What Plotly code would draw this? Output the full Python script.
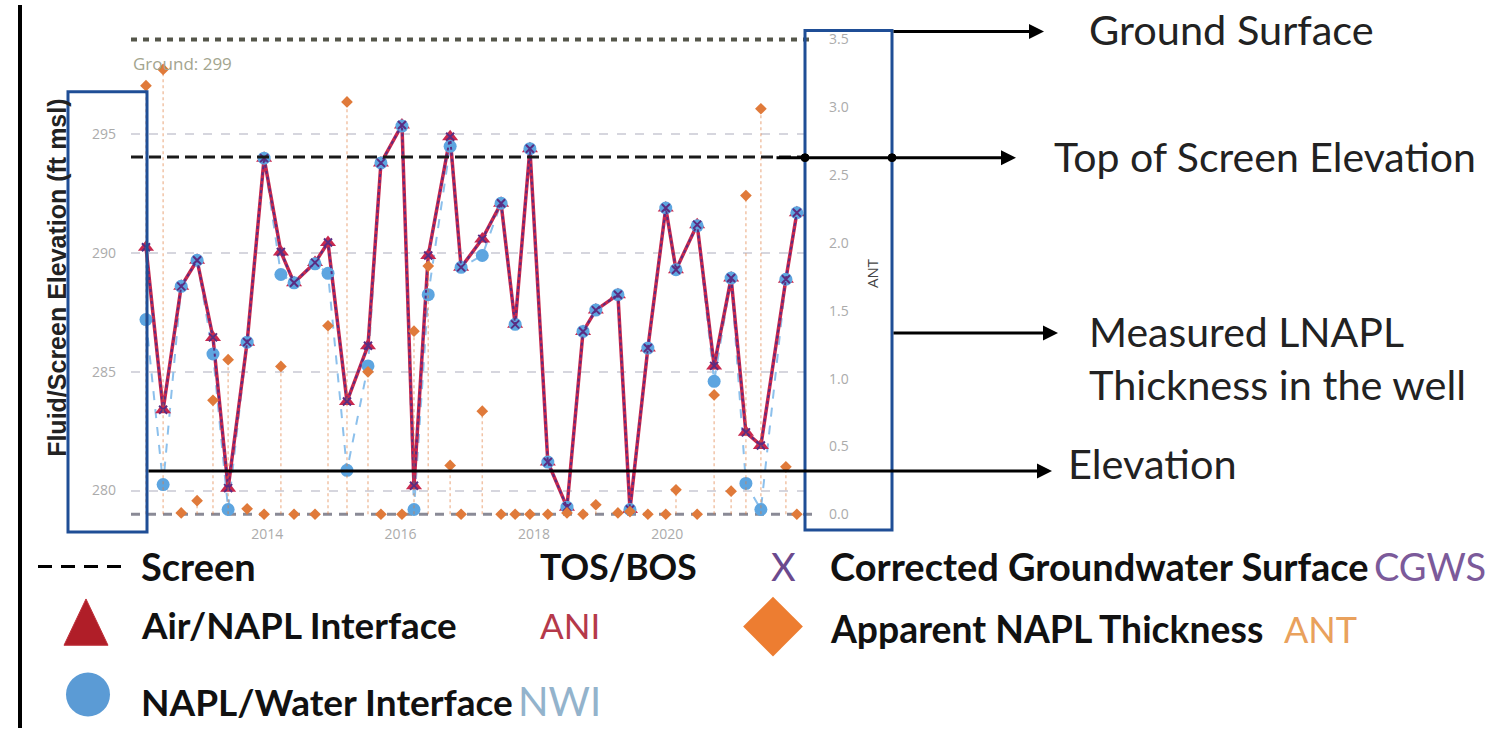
import plotly.graph_objects as go

# ---------------- data ----------------
dates = ["2012-03-08", "2012-06-10", "2012-09-17", "2012-12-13", "2013-03-10", "2013-06-01",
         "2013-09-13", "2013-12-15", "2014-03-17", "2014-05-28", "2014-09-20", "2014-11-30",
         "2015-03-14", "2015-07-07", "2015-09-16", "2016-01-09", "2016-03-15", "2016-06-01",
         "2016-09-29", "2016-11-28", "2017-03-24", "2017-07-05", "2017-09-20", "2017-12-10",
         "2018-03-18", "2018-07-01", "2018-09-27", "2018-12-06", "2019-04-06", "2019-06-11",
         "2019-09-17", "2019-12-24", "2020-02-18", "2020-06-13", "2020-09-14", "2020-12-16",
         "2021-03-07", "2021-05-28", "2021-10-12", "2021-12-11"]

ani = [290.25, 283.4, 288.6, 289.7, 286.45, 280.1, 286.25, 294.0, 290.05, 288.75,
       289.6, 290.45, 283.75, 286.1, 293.8, 295.4, 280.2, 289.9, 294.9, 289.4,
       290.6, 292.1, 287.0, 294.4, 281.2, 279.3, 286.7, 287.6, 288.25, 279.2,
       286.0, 291.9, 289.3, 291.2, 285.25, 288.95, 282.45, 281.9, 288.9, 291.7]

nwi = [287.2, 280.25, 288.6, 289.7, 285.75, 279.2, 286.25, 294.0, 289.1, 288.75,
       289.55, 289.15, 280.85, 285.25, 293.8, 295.35, 279.2, 288.25, 294.5, 289.4,
       289.9, 292.1, 287.0, 294.4, 281.2, 279.3, 286.7, 287.6, 288.25, 279.2,
       286.0, 291.9, 289.3, 291.15, 284.6, 288.95, 280.3, 279.2, 288.9, 291.7]

cgws = [290.25, 283.4, 288.6, 289.7, 286.45, 280.1, 286.25, 294.0, 290.05, 288.75,
        289.6, 290.45, 283.75, 286.1, 293.8, 295.4, 280.2, 289.9, 294.9, 289.4,
        290.6, 292.1, 287.0, 294.4, 281.2, 279.3, 286.7, 287.6, 288.25, 279.2,
        286.0, 291.9, 289.3, 291.2, 285.25, 288.95, 282.45, 281.9, 288.9, 291.7]

ant = [3.16, 3.28, 0.01, 0.10, 0.84, 1.14, 0.04, 0.0, 1.09, 0.0,
       0.0, 1.39, 3.04, 1.05, 0.0, 0.0, 1.35, 1.83, 0.36, 0.0,
       0.76, 0.0, 0.0, 0.0, 0.0, 0.01, 0.0, 0.07, 0.01, 0.02,
       0.0, 0.0, 0.18, 0.0, 0.88, 0.17, 2.35, 2.99, 0.35, 0.0]

ground_elev = 299.0
tos_elev = 294.05
bos_elev = 279.0
left_ticks = [280, 285, 290, 295]
right_ticks = [0.0, 0.5, 1.0, 1.5, 2.0, 2.5, 3.0, 3.5]
x_ticks = ["2014-01-01", "2016-01-01", "2018-01-01", "2020-01-01"]
x_tick_text = ["2014", "2016", "2018", "2020"]

# ---------------- layout geometry (pixels) ----------------
W, H = 1501, 734
PL, PR, PT, PB = 131, 812, 30, 520
left_range = [278.876, 299.207]
right_range = [-0.0218, 3.537]
x_range = ["2011-12-17", "2022-03-04"]

RED = "#C9284E"
BLUE = "#5DA5E0"
PURPLE = "#5A2D82"
ORANGE = "#E07A3A"

fig = go.Figure()

# ANT drop lines
dx, dy = [], []
for d, v in zip(dates, ant):
    dx += [d, d, None]
    dy += [0, v, None]
fig.add_trace(go.Scatter(x=dx, y=dy, yaxis="y2", mode="lines",
                         line=dict(color="rgba(224,122,58,0.45)", width=1.5, dash="dot"),
                         hoverinfo="skip", showlegend=False))
# NWI line
fig.add_trace(go.Scatter(x=dates, y=nwi, mode="lines",
                         line=dict(color="#8CC0EC", width=2, dash="dash"),
                         hoverinfo="skip", showlegend=False))
# ANI
fig.add_trace(go.Scatter(x=dates, y=ani, mode="lines+markers", name="ANI",
                         line=dict(color=RED, width=3.5),
                         marker=dict(symbol="triangle-up", size=14, color=RED),
                         showlegend=False))
# NWI markers
fig.add_trace(go.Scatter(x=dates, y=nwi, mode="markers", name="NWI",
                         marker=dict(symbol="circle", size=13, color=BLUE),
                         showlegend=False))
# CGWS
fig.add_trace(go.Scatter(x=dates, y=cgws, mode="lines+markers", name="CGWS",
                         line=dict(color=PURPLE, width=2, dash="dot"),
                         marker=dict(symbol="x-thin", size=8, line=dict(color=PURPLE, width=2)),
                         showlegend=False))
# ANT markers
fig.add_trace(go.Scatter(x=dates, y=ant, yaxis="y2", mode="markers", name="ANT",
                         marker=dict(symbol="diamond", size=9, color=ORANGE),
                         cliponaxis=False, showlegend=False))

# ---------------- overlay (pixel) axes for annotation graphics ----------------
fig.add_trace(go.Scatter(x=[88], y=[700], xaxis="x3", yaxis="y3", mode="markers",
                         marker=dict(symbol="circle", size=44, color="#5B9BD5"),
                         hoverinfo="skip", showlegend=False))
fig.add_trace(go.Scatter(x=[773], y=[631], xaxis="x3", yaxis="y3", mode="markers",
                         marker=dict(symbol="diamond", size=46, color="#ED7D31"),
                         hoverinfo="skip", showlegend=False))

shapes = []
P = dict(xref="x3", yref="y3", layer="above")
# ground line, TOS, BOS within plot
shapes.append(dict(type="line", xref="x domain", yref="y", x0=0, x1=1, y0=ground_elev, y1=ground_elev,
                   line=dict(color="#55564a", width=4, dash="6px,6px"), layer="above"))
shapes.append(dict(type="line", xref="x domain", yref="y", x0=0, x1=1, y0=tos_elev, y1=tos_elev,
                   line=dict(color="#1a1a1a", width=3, dash="12px,6px"), layer="above"))
shapes.append(dict(type="line", xref="x domain", yref="y", x0=0, x1=1, y0=bos_elev, y1=bos_elev,
                   line=dict(color="#8a8a96", width=3, dash="9px,7px"), layer="below"))
# left frame line
shapes.append(dict(type="line", x0=20, x1=20, y0=0, y1=734, line=dict(color="black", width=4), **P))
# blue boxes
shapes.append(dict(type="rect", x0=68, x1=147, y0=88, y1=535, line=dict(color="#1F4E96", width=3), **P))
shapes.append(dict(type="rect", x0=805, x1=892, y0=26, y1=533, line=dict(color="#1F4E96", width=3), **P))
# junction dots
for cx in (805, 892):
    shapes.append(dict(type="circle", x0=cx - 4, x1=cx + 4, y0=151, y1=159,
                       fillcolor="black", line=dict(color="black", width=1), **P))
# legend dashed line
shapes.append(dict(type="line", x0=38, x1=128, y0=570, y1=570,
                   line=dict(color="black", width=3, dash="14px,9px"), **P))
# legend triangle (upright)
shapes.append(dict(type="path", path="M 86 603 L 108 650 L 64 650 Z",
                   fillcolor="#B01E28", line=dict(color="#C0303A", width=1), **P))
fig.update_layout(shapes=shapes)

ann = []
A = dict(xref="x3", yref="y3", axref="x3", ayref="y3", text="", showarrow=True,
         arrowhead=2, arrowsize=1, arrowwidth=3, arrowcolor="black", standoff=0)
ann.append(dict(x=1044, y=27, ax=892, ay=27, **A))
ann.append(dict(x=1016, y=155, ax=775, ay=155, **A))
ann.append(dict(x=1058, y=333, ax=892, ay=333, **A))
ann.append(dict(x=1052, y=473, ax=147, ay=473, **A))

T = dict(xref="x3", yref="y3", showarrow=False, xanchor="left", yanchor="middle")
RF = dict(family="Lato", size=41.5, color="#222222")
ann.append(dict(x=1087, y=24, text="Ground Surface", font=RF, **T))
ann.append(dict(x=1052, y=154, text="Top of Screen Elevation", font=dict(RF, size=41), **T))
ann.append(dict(x=1087, y=331, text="Measured LNAPL", font=dict(RF, size=41), **T))
ann.append(dict(x=1087, y=385, text="Thickness in the well", font=RF, **T))
ann.append(dict(x=1066, y=465, text="Elevation", font=RF, **T))

LB = dict(family="Lato", size=38, color="#111111", weight="bold")
LR = dict(family="Lato", size=38)
ann.append(dict(x=139, y=570, text="Screen", font=LB, **T))
ann.append(dict(x=538, y=570, text="TOS/BOS", font=dict(LB, size=35.5), **T))
ann.append(dict(x=769, y=570, text="X", font=dict(LR, color="#6B4A8E"), **T))
ann.append(dict(x=828, y=570, text="Corrected Groundwater Surface", font=LB, **T))
ann.append(dict(x=1372, y=570, text="CGWS", font=dict(LR, color="#7B5A9A"), **T))
ann.append(dict(x=139, y=629, text="Air/NAPL Interface", font=dict(LB, size=36.8), **T))
ann.append(dict(x=538, y=629, text="ANI", font=dict(LR, size=35, color="#B5394A"), **T))
ann.append(dict(x=828, y=633, text="Apparent NAPL Thickness", font=dict(LB, size=37.3), **T))
ann.append(dict(x=1282, y=633, text="ANT", font=dict(LR, size=36, color="#E9A15C"), **T))
ann.append(dict(x=139, y=707, text="NAPL/Water Interface", font=dict(LB, size=37), **T))
ann.append(dict(x=516, y=707, text="NWI", font=dict(LR, size=40, color="#93B3CC"), **T))

# axis titles / chart labels
ann.append(dict(x=57, y=277, text="Fluid/Screen Elevation (ft msl)", textangle=-90,
                font=dict(family="Liberation Sans", size=25, color="#222222", weight="bold"),
                xref="x3", yref="y3", showarrow=False))
ann.append(dict(x=872, y=272, text="ANT", textangle=-90,
                font=dict(family="Open Sans", size=15, color="#444444"),
                xref="x3", yref="y3", showarrow=False))
ann.append(dict(x=131, y=59, text="Ground: 299", xanchor="left",
                font=dict(family="Open Sans", size=17, color="#a3a58f"),
                xref="x3", yref="y3", showarrow=False))
fig.update_layout(annotations=ann)

TICKF = dict(family="Open Sans", size=14, color="#ababab")
fig.update_layout(
    width=W, height=H, autosize=False,
    margin=dict(l=0, r=0, t=0, b=0),
    paper_bgcolor="white", plot_bgcolor="rgba(0,0,0,0)",
    showlegend=False,
    xaxis=dict(domain=[PL / W, PR / W], type="date", range=x_range,
               tickvals=x_ticks, ticktext=x_tick_text, tickfont=TICKF,
               showgrid=False, zeroline=False, showline=False, ticks="",
               ticklabelstandoff=7, anchor="y"),
    yaxis=dict(domain=[(H - PB) / H, (H - PT) / H], range=left_range,
               tickvals=left_ticks, tickfont=TICKF, showgrid=True,
               gridcolor="#d6d6de", griddash="dash", gridwidth=1.5,
               zeroline=False, showline=False, ticks="", ticklabelstandoff=14, anchor="x"),
    yaxis2=dict(overlaying="y", side="right", anchor="x", range=right_range,
                tickvals=right_ticks, tickformat=".1f", tickfont=TICKF,
                showgrid=False, zeroline=False, showline=False, ticks="", ticklabelstandoff=16),
    xaxis3=dict(domain=[0, 1], range=[0, W], visible=False, anchor="y3", fixedrange=True),
    yaxis3=dict(domain=[0, 1], range=[H, 0], visible=False, anchor="x3", fixedrange=True),
)

fig.write_html("out.html", config={"displayModeBar": False},
               post_script="document.body.style.margin='0px';document.body.style.overflow='hidden';")
